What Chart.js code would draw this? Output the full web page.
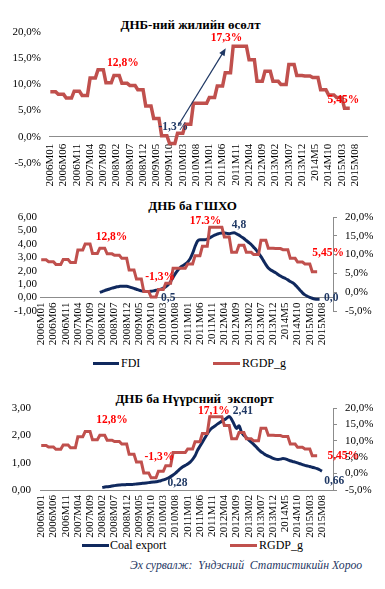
<!DOCTYPE html>
<html><head><meta charset="utf-8">
<script src="https://cdn.jsdelivr.net/npm/chart.js@4.4.0/dist/chart.umd.min.js"></script>
<style>
html,body{margin:0;padding:0;background:#fff;}
body{width:385px;height:589px;position:relative;overflow:hidden;font-family:"Liberation Serif","Times New Roman",serif;}
canvas{position:absolute;left:0;z-index:2;}
.t{position:absolute;width:185px;text-align:center;font-weight:bold;font-size:13px;color:#000;line-height:16px;white-space:pre;z-index:1;}
.lg{position:absolute;font-size:12px;color:#000;line-height:14px;white-space:nowrap;z-index:1;}
.sw{position:absolute;height:3px;z-index:1;}
.src{position:absolute;left:130px;top:559px;font-style:italic;font-size:11.7px;color:#1F3864;white-space:pre;z-index:1;}
</style></head>
<body>
<canvas id="c1" width="385" height="192" style="top:0px"></canvas>
<canvas id="c2" width="385" height="160" style="top:190px"></canvas>
<canvas id="c3" width="385" height="175" style="top:370px"></canvas>
<div class="t" style="left:98px;top:17px">ДНБ-ний жилийн өсөлт</div>
<div class="t" style="left:100px;top:198px">ДНБ ба ГШХО</div>
<div class="t" style="left:102px;top:391px">ДНБ ба Нүүрсний  экспорт</div>
<div class="sw" style="left:93px;top:362px;width:26px;background:#10295E"></div>
<div class="lg" style="left:121px;top:356px">FDI</div>
<div class="sw" style="left:213px;top:362px;width:27px;background:#C0504D"></div>
<div class="lg" style="left:242px;top:356px">RGDP_g</div>
<div class="sw" style="left:82px;top:544px;width:27px;background:#10295E"></div>
<div class="lg" style="left:110px;top:538px">Coal export</div>
<div class="sw" style="left:230px;top:544px;width:27px;background:#C0504D"></div>
<div class="lg" style="left:259px;top:538px">RGDP_g</div>
<div class="src">Эх сурвалж:  Үндэсний  Статистикийн Хороо</div>
<script>
// ---------- DATA ----------
const tickLabels = ["2006M01","2006M06","2006M11","2007M04","2007M09","2008M02","2008M07","2008M12","2009M05","2009M10","2010M03","2010M08","2011M01","2011M06","2011M11","2012M04","2012M09","2013M02","2013M07","2013M12","2014M5","2014M10","2015M03","2015M08"];
const years = [2006,2007,2008,2009,2010,2011,2012,2013,2014,2015];
const monthNums = ["01","02","03","04","05","06","07","08","09","10","11","12"];
const pctTicks = [-5, 0, 5, 10, 15, 20];
const fdiTicks = [-1, 0, 1, 2, 3, 4, 5, 6];
const coalTicks = [0, 1, 2, 3];
// Real GDP growth, %, quarterly (2006Q1 .. 2015Q2), shown monthly as steps
const rgdpQuarterly = [8.6, 8.1, 7.4, 8.7, 7.9, 11.2, 12.8, 10.3, 11.7, 10.2, 9.8, 9.0, 5.9, 3.5, 0.2, -1.3, 0.7, 2.4, 6.4, 6.4, 7.5, 9.7, 12.2, 17.3, 17.3, 14.7, 10.6, 12.5, 10.6, 10.0, 13.8, 11.7, 11.6, 11.3, 9.0, 8.0, 7.5, 5.45];
// FDI (left axis), monthly from 2008M01
const fdiStartIndex = 24;
const fdi = [0.38,0.45,0.52,0.58,0.64,0.70,0.75,0.80,0.83,0.85,
0.85,0.84,0.80,0.74,0.68,0.62,0.55,0.50,0.47,0.46,
0.46,0.47,0.50,0.54,0.58,0.63,0.70,0.80,0.95,1.20,
1.50,1.80,2.05,2.25,2.38,2.50,2.65,2.90,3.30,3.80,
4.20,4.30,4.30,4.30,4.35,4.45,4.55,4.65,4.72,4.78,
4.80,4.80,4.78,4.75,4.80,4.82,4.75,4.65,4.52,4.40,
4.25,4.10,3.95,3.75,3.55,3.30,3.05,2.75,2.45,2.20,
2.05,1.95,1.85,1.72,1.60,1.50,1.42,1.32,1.20,1.10,
0.95,0.75,0.55,0.35,0.20,0.10,0.02,-0.05,-0.10,-0.12,-0.12];
// Coal export (left axis), monthly from 2008M02
const coalStartIndex = 25;
const coalExport = [0.09,0.11,0.12,0.13,0.15,0.16,0.17,0.18,0.19,0.19,
0.20,0.20,0.20,0.21,0.22,0.23,0.24,0.25,0.26,0.27,
0.28,0.29,0.30,0.32,0.34,0.37,0.40,0.44,0.49,0.55,
0.62,0.70,0.78,0.85,0.90,0.95,1.02,1.12,1.25,1.45,
1.60,1.75,1.90,2.05,2.18,2.27,2.33,2.40,2.46,2.52,
2.57,2.63,2.69,2.58,2.40,2.25,2.35,2.12,2.00,1.92,
1.83,1.75,1.67,1.58,1.48,1.40,1.34,1.28,1.24,1.20,
1.16,1.13,1.12,1.13,1.15,1.14,1.10,1.07,1.04,1.02,
0.99,0.96,0.93,0.90,0.88,0.86,0.83,0.81,0.78,0.74,0.69];

// ---------- BUILD ----------
const months = [];
years.forEach(y => monthNums.forEach(m => months.push(y + "M" + m)));
const rgdpMonthly = rgdpQuarterly.flatMap(v => [v, v, v]);
const fdiMonthly = Array(fdiStartIndex).fill(null).concat(fdi);
const coalMonthly = Array(coalStartIndex).fill(null).concat(coalExport);

const RED = "#C0504D", NAVY = "#10295E", LBL_RED = "#FF0000", LBL_NAVY = "#1F3864";
const SERIF = '"Liberation Serif", "Times New Roman", serif';
Chart.defaults.font.family = SERIF;
Chart.defaults.color = "#111";

const textLabels = {
  id: "textLabels",
  afterDatasetsDraw(chart, args, opts) {
    const ctx = chart.ctx, xs = chart.scales.x;
    if (opts.arrow) {
      const a = opts.arrow, ys = chart.scales.y;
      const x1 = xs.getPixelForValue(a.from[0]), y1 = ys.getPixelForValue(a.from[1]);
      const x2 = xs.getPixelForValue(a.to[0]), y2 = ys.getPixelForValue(a.to[1]);
      const ang = Math.atan2(y2 - y1, x2 - x1);
      ctx.save();
      ctx.strokeStyle = a.color; ctx.fillStyle = a.color; ctx.lineWidth = 1.2;
      ctx.beginPath(); ctx.moveTo(x1, y1); ctx.lineTo(x2 - 4 * Math.cos(ang), y2 - 4 * Math.sin(ang)); ctx.stroke();
      ctx.beginPath(); ctx.moveTo(x2, y2);
      ctx.lineTo(x2 - 8 * Math.cos(ang - 0.4), y2 - 8 * Math.sin(ang - 0.4));
      ctx.lineTo(x2 - 8 * Math.cos(ang + 0.4), y2 - 8 * Math.sin(ang + 0.4));
      ctx.closePath(); ctx.fill();
      ctx.restore();
    }
    (opts.items || []).forEach(it => {
      const ys = chart.scales[it.axis || "y"];
      const px = xs.getPixelForValue(it.i), py = ys.getPixelForValue(it.v);
      ctx.save();
      ctx.font = "bold 11.5px " + SERIF;
      ctx.fillStyle = it.color; ctx.textAlign = "center"; ctx.textBaseline = "middle";
      ctx.fillText(it.text, px, py);
      ctx.restore();
    });
  }
};

function xAxis(pad) {
  return {
    type: "category", axis: "x", position: { y: 0 }, offset: true,
    grid: { display: false, drawTicks: false },
    border: { display: true, color: "#8C8C8C", width: 1 },
    ticks: {
      autoSkip: false, minRotation: 90, maxRotation: 90, padding: pad,
      font: { size: 11, family: SERIF }, color: "#000",
      callback: (v, idx) => (idx % 5 === 0 ? tickLabels[idx / 5] : null)
    },
    afterFit(s) { s.paddingLeft = 0; s.paddingRight = 0; }
  };
}
function leftAxis(tickVals, fmt, width, pad) {
  return {
    position: "left", min: tickVals[0], max: tickVals[tickVals.length - 1],
    grid: { display: false, drawTicks: false },
    border: { display: false },
    ticks: { autoSkip: false, padding: pad, font: { size: 11, family: SERIF }, color: "#000", callback: fmt },
    afterBuildTicks(s) { s.ticks = tickVals.map(v => ({ value: v })); },
    afterFit(s) { s.width = width; s.paddingTop = 0; s.paddingBottom = 0; }
  };
}
function rightAxis(width) {
  return {
    position: "right", min: pctTicks[0], max: pctTicks[pctTicks.length - 1],
    grid: { display: true, drawOnChartArea: false, drawTicks: true, tickLength: 4, color: "#8C8C8C" },
    border: { display: true, color: "#8C8C8C" },
    ticks: { autoSkip: false, padding: 8, font: { size: 11, family: SERIF }, color: "#000",
      callback: v => v.toFixed(1).replace(".", ",") + "%" },
    afterBuildTicks(s) { s.ticks = pctTicks.map(v => ({ value: v })); },
    afterFit(s) { s.width = width; s.paddingTop = 0; s.paddingBottom = 0; }
  };
}
const pct = v => v.toFixed(1).replace(".", ",") + "%";
const dec2 = v => v.toFixed(2).replace(".", ",");
const base = { responsive: false, animation: false, devicePixelRatio: 1 };

// Chart 1
new Chart(document.getElementById("c1"), {
  type: "line",
  data: { labels: months, datasets: [
    { label: "RGDP_g", data: rgdpMonthly, borderColor: RED, borderWidth: 3.5, pointRadius: 0, tension: 0, yAxisID: "y" }
  ]},
  options: Object.assign({}, base, {
    layout: { padding: { left: 0, right: 18, top: 32, bottom: 29 } },
    scales: { x: xAxis(7), y: leftAxis(pctTicks, pct, 49, 8) },
    plugins: { legend: { display: false }, tooltip: { enabled: false },
      textLabels: {
        arrow: { from: [48.2, 2.1], to: [66.2, 16.9], color: LBL_NAVY },
        items: [
          { text: "12,8%", i: 27.4, v: 14.1, color: LBL_RED },
          { text: "17,3%", i: 66.5, v: 18.8, color: LBL_RED },
          { text: "-1,3%", i: 46.4, v: 1.9, color: LBL_NAVY },
          { text: "5,45%", i: 110.6, v: 7.0, color: LBL_RED }
        ]
      }
    }
  }),
  plugins: [textLabels]
});

// Chart 3
new Chart(document.getElementById("c3"), {
  type: "line",
  data: { labels: months, datasets: [
    { label: "RGDP_g", data: rgdpMonthly, borderColor: RED, borderWidth: 3, pointRadius: 0, tension: 0, yAxisID: "y1" },
    { label: "Coal export", data: coalMonthly, borderColor: NAVY, borderWidth: 3, pointRadius: 0, cubicInterpolationMode: "monotone", yAxisID: "y" }
  ]},
  options: Object.assign({}, base, {
    layout: { padding: { left: 0, right: 0, top: 38, bottom: 55 } },
    scales: { x: xAxis(5), y: leftAxis(coalTicks, dec2, 40, 9), y1: rightAxis(52) },
    plugins: { legend: { display: false }, tooltip: { enabled: false },
      textLabels: { items: [
        { text: "12,8%", i: 29, v: 2.55, color: LBL_RED },
        { text: "17,1%", i: 70.7, v: 2.88, color: LBL_RED },
        { text: "2,41", i: 82.6, v: 2.88, color: LBL_NAVY },
        { text: "-1,3%", i: 48.4, v: 1.2, color: LBL_RED },
        { text: "0,28", i: 55.8, v: 0.26, color: LBL_NAVY },
        { text: "5,45%", i: 123.7, v: 1.24, color: LBL_RED },
        { text: "0,66", i: 120, v: 0.34, color: LBL_NAVY }
      ]}
    }
  }),
  plugins: [textLabels]
});

// Chart 2
new Chart(document.getElementById("c2"), {
  type: "line",
  data: { labels: months, datasets: [
    { label: "RGDP_g", data: rgdpMonthly, borderColor: RED, borderWidth: 3, pointRadius: 0, tension: 0, yAxisID: "y1" },
    { label: "FDI", data: fdiMonthly, borderColor: NAVY, borderWidth: 3, pointRadius: 0, cubicInterpolationMode: "monotone", yAxisID: "y" }
  ]},
  options: Object.assign({}, base, {
    layout: { padding: { left: 0, right: 0, top: 27, bottom: 39 } },
    scales: { x: xAxis(5), y: leftAxis(fdiTicks, dec2, 40, 3), y1: rightAxis(52) },
    plugins: { legend: { display: false }, tooltip: { enabled: false },
      textLabels: { items: [
        { text: "12,8%", i: 28.8, v: 4.5, color: LBL_RED },
        { text: "17.3%", i: 67.3, v: 5.7, color: LBL_RED },
        { text: "4,8", i: 81, v: 5.4, color: LBL_NAVY },
        { text: "-1,3%", i: 48.7, v: 1.5, color: LBL_RED },
        { text: "0,5", i: 52, v: -0.05, color: LBL_NAVY },
        { text: "5,45%", i: 117.5, v: 3.3, color: LBL_RED },
        { text: "0,0", i: 118.8, v: -0.05, color: LBL_NAVY }
      ]}
    }
  }),
  plugins: [textLabels]
});
</script>
</body></html>
